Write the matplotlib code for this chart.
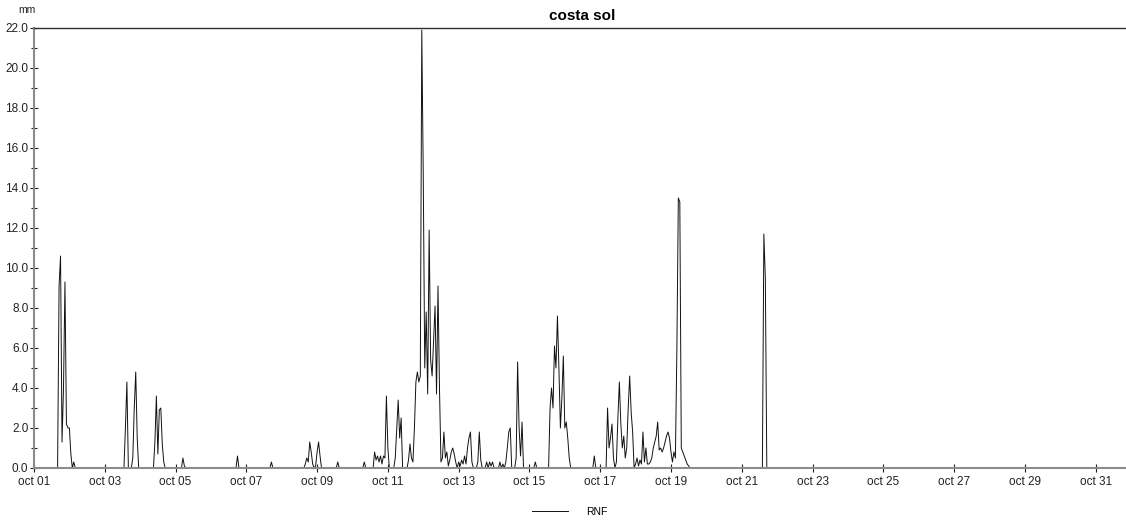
import numpy as np
import pandas as pd
import matplotlib
matplotlib.use("Agg")
import matplotlib.pyplot as plt
from matplotlib.ticker import MultipleLocator, FuncFormatter

plt.rcParams["font.family"] = ["Liberation Sans", "DejaVu Sans"]

# hourly rainfall (mm); each rain spell = first hour after oct 01 00:00 + hourly totals
spell_start = [16, 61, 66, 81, 100, 137, 160, 184, 206, 224, 230, 319, 326, 339,
               349, 379, 388, 395, 408, 417, 494]
spell_values = [
    [0, 9.1, 10.6, 1.3, 4.0, 9.3, 2.2, 2.0, 2.0, 0.7, 0, 0.3, 0],
    [0, 2.0, 4.3, 0],
    [0, 0.5, 3.0, 4.8, 1.5, 0],
    [0, 1.3, 3.6, 0.7, 2.9, 3.0, 1.2, 0.3, 0],
    [0, 0.5, 0.1, 0],
    [0, 0.6, 0],
    [0, 0.3, 0],
    [0.2, 0.5, 0.3, 1.3, 0.8, 0.2, 0, 0.1, 0.8, 1.3, 0.6, 0],
    [0.3],
    [0.3],
    [0, 0.8, 0.4, 0.6, 0.3, 0.6, 0.2, 0.6, 0.5, 3.6, 1.0, 0, 0, 0, 0, 0.5, 2.0, 3.4,
     1.5, 2.5, 0, 0, 0, 0, 0.4, 1.2, 0.5, 0.3, 2.0, 4.3, 4.8, 4.3, 4.6, 21.9, 14.6,
     5.0, 7.8, 3.7, 11.9, 5.4, 4.6, 6.3, 8.1, 3.7, 9.1, 4.0, 0.3, 0.5, 1.8, 0.5, 0.8,
     0.1, 0.4, 0.8, 1.0, 0.7, 0.3, 0, 0.3, 0.1, 0.4, 0.2, 0.6, 0.2, 1.0, 1.5, 1.8, 0.3,
     0, 0, 0, 0.3, 1.8, 0.4, 0, 0, 0, 0.3, 0, 0.3, 0.1, 0.3, 0, 0, 0, 0, 0.3, 0, 0.2, 0],
    [0, 0.3, 1.0, 1.8, 2.0, 0],
    [0, 0.5, 5.3, 2.0, 0.6, 2.3, 0],
    [0, 0.3, 0],
    [0, 3.0, 4.0, 3.0, 6.1, 5.0, 7.6, 5.0, 2.0, 3.5, 5.6, 2.0, 2.3, 1.5, 0.5, 0],
    [0, 0.6, 0],
    [0, 3.0, 1.0, 1.5, 2.2, 0.5, 0],
    [0.3, 2.5, 4.3, 2.2, 1.0, 1.6, 0.5, 1.0, 3.0, 4.6, 2.8, 1.8, 0],
    [0.2, 0.5, 0.1, 0.4, 0.2, 1.8, 0.3, 1.0, 0.2],
    [0.2, 0.3, 0.5, 1.0, 1.3, 1.6, 2.3, 0.9, 1.0, 0.8, 1.0, 1.3, 1.6, 1.8, 1.5, 0.8,
     0.3, 0.8, 0.5, 5.9, 13.5, 13.3, 1.0, 0.8, 0.6, 0.4, 0.2, 0.1, 0],
    [0, 11.7, 9.5, 0],
]
series_name = "RNF"
tick_days = pd.date_range("2023-10-01", "2023-10-31", freq="2D")

hours = pd.date_range("2023-10-01 00:00", periods=31 * 24 + 1, freq="h")
rain = np.zeros(len(hours))
for start, vals in zip(spell_start, spell_values):
    rain[start:start + len(vals)] = vals

W, H = 1126, 521
fig = plt.figure(figsize=(W / 100, H / 100), dpi=100)
ax = fig.add_axes([34 / W, 1 - 468 / H, (1131 - 34) / W, 440 / H])

line, = ax.plot(hours, rain, color="#111111", lw=0.7)

ax.set_xlim(hours[0], hours[-1])
ax.set_ylim(0, 22)

ax.yaxis.set_major_locator(MultipleLocator(2))
ax.yaxis.set_minor_locator(MultipleLocator(1))
ax.yaxis.set_major_formatter(FuncFormatter(lambda v, p: f"{v:.1f}"))
ax.set_xticks(tick_days)
ax.set_xticklabels([d.strftime("%b %d").lower() for d in tick_days])

for s in ("left", "bottom"):
    ax.spines[s].set_color("#8c8c8c")
    ax.spines[s].set_linewidth(1.5)
ax.spines["top"].set_color("#303030")
ax.spines["top"].set_linewidth(1.0)
ax.spines["right"].set_visible(False)

ax.tick_params(axis="both", which="both", direction="inout", colors="#202020",
               labelsize=8.5, labelcolor="#222222")
ax.tick_params(axis="y", which="major", length=6, width=0.8, pad=1)
ax.tick_params(axis="y", which="minor", length=5, width=0.8)
ax.tick_params(axis="x", which="major", length=6, width=0.8, pad=3)

ax.set_title("costa sol", fontsize=11, fontweight="bold", pad=6)
fig.text(27 / W, 1 - 10 / H, "mm", fontsize=7.5, ha="center", va="center",
         color="#222222")

fig.legend([line], [series_name], loc="center", bbox_to_anchor=(570 / W, 1 - 512 / H),
           frameon=False, fontsize=7.5, handlelength=3.4, handletextpad=1.8)

fig.savefig("out.png", dpi=100)
